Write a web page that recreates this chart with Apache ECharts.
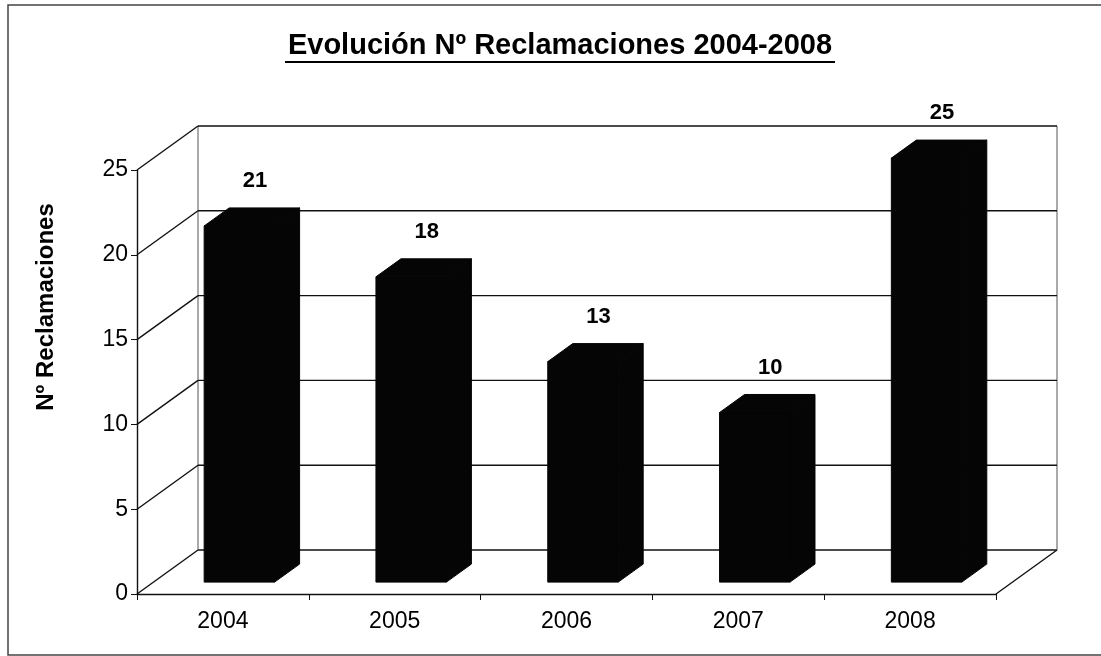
<!DOCTYPE html>
<html>
<head>
<meta charset="utf-8">
<title>Evolución Nº Reclamaciones 2004-2008</title>
<style>
    html, body { margin: 0; padding: 0; background: #fff; }
    #chart { width: 1101px; height: 656px; }
</style>
<script src="https://cdn.jsdelivr.net/npm/echarts/dist/echarts.min.js"></script>
</head>
<body>
<div id="chart"></div>
<script>
    // datos
    const years = ['2004', '2005', '2006', '2007', '2008'];
    const reclamaciones = [21, 18, 13, 10, 25];
    const yTicks = [0, 5, 10, 15, 20, 25];

    // profundidad del efecto 3D (px)
    const DX = 61, DY = -44;
    const F0 = 0.27, F1 = 0.68; // posicion de la barra dentro de la profundidad
    const FONT = '"Liberation Sans", Arial, sans-serif';

    let chart = echarts.init(document.getElementById('chart'));

    // paredes: lineas de fondo y diagonales
    function renderWall(params, api) {
        let cs = params.coordSys;
        let v = api.value(1);
        let y = api.coord([0, v])[1];
        let x0 = cs.x, W = cs.width;
        let lineStyle = { stroke: '#111', lineWidth: 1.4 };
        let children = [
            { type: 'line', shape: { x1: x0, y1: y, x2: x0 + DX, y2: y + DY }, style: lineStyle },
            { type: 'line', shape: { x1: x0 + DX, y1: y + DY, x2: x0 + DX + W, y2: y + DY }, style: lineStyle }
        ];
        if (params.dataIndex === 0) {
            let yTop = api.coord([0, yTicks[yTicks.length - 1]])[1];
            children.push(
                { type: 'line', shape: { x1: x0 + W, y1: y, x2: x0 + W + DX, y2: y + DY }, style: lineStyle },
                { type: 'line', shape: { x1: x0 + DX, y1: y + DY, x2: x0 + DX, y2: yTop + DY }, style: { stroke: '#555', lineWidth: 1 } },
                { type: 'line', shape: { x1: x0 + W + DX, y1: y + DY, x2: x0 + W + DX, y2: yTop + DY }, style: { stroke: '#555', lineWidth: 1 } }
            );
        }
        return { type: 'group', children: children };
    }

    // barras 3D
    function renderBar(params, api) {
        let i = api.value(0), v = api.value(1);
        let c0 = api.coord([i, 0]);
        let c1 = api.coord([i, v]);
        let bw = api.size([1, 0])[0] * 0.41;
        let dx0 = F0 * DX, dy0 = F0 * DY;
        let ddx = (F1 - F0) * DX, ddy = (F1 - F0) * DY;
        let left = c0[0] - bw / 2 + dx0, right = left + bw;
        let bottom = c0[1] + dy0, top = c1[1] + dy0;
        let st = { fill: '#050505', stroke: '#050505', lineWidth: 1 };
        return {
            type: 'group',
            children: [
                { type: 'rect', shape: { x: left, y: top, width: bw, height: bottom - top }, style: st },
                { type: 'polygon', shape: { points: [[left, top], [left + ddx, top + ddy], [right + ddx, top + ddy], [right, top]] }, style: st },
                { type: 'polygon', shape: { points: [[right, top], [right + ddx, top + ddy], [right + ddx, bottom + ddy], [right, bottom]] }, style: st },
                {
                    type: 'text',
                    x: c0[0] + (F0 + F1) / 2 * DX + 3,
                    y: top + ddy - 27,
                    style: {
                        text: String(v), fill: '#000', font: 'bold 22px ' + FONT,
                        align: 'center', verticalAlign: 'middle'
                    }
                }
            ]
        };
    }

    chart.setOption({
        animation: false,
        backgroundColor: '#fff',
        graphic: [
            { type: 'rect', shape: { x: 8, y: 5, width: 1110, height: 650 }, style: { fill: 'none', stroke: '#444', lineWidth: 1.5 } },
            {
                type: 'text', x: 560, y: 46,
                style: { text: 'Evolución Nº Reclamaciones 2004-2008', font: 'bold 29px ' + FONT, fill: '#000', align: 'center', verticalAlign: 'middle' }
            },
            { type: 'rect', shape: { x: 285, y: 61, width: 550, height: 2 }, style: { fill: '#000' } },
            {
                type: 'text', x: 46, y: 307, rotation: Math.PI / 2,
                style: { text: 'Nº Reclamaciones', font: 'bold 24px ' + FONT, fill: '#000', align: 'center', verticalAlign: 'middle' }
            }
        ],
        grid: {
            left: 137,
            right: 105,
            top: 170,
            bottom: 62
        },
        xAxis: {
            type: 'category',
            data: years,
            axisLine: { lineStyle: { color: '#111', width: 1.4 } },
            axisTick: { show: true, length: 6, lineStyle: { color: '#111' } },
            axisLabel: { color: '#000', fontSize: 23, fontFamily: FONT, margin: 16 }
        },
        yAxis: {
            type: 'value',
            min: 0,
            max: 25,
            interval: 5,
            axisLine: { show: true, lineStyle: { color: '#111', width: 1.4 } },
            axisTick: { show: true, length: 6, lineStyle: { color: '#111' } },
            axisLabel: { color: '#000', fontSize: 23, fontFamily: FONT, margin: 9 },
            splitLine: { show: false }
        },
        series: [
            {
                type: 'custom',
                renderItem: renderWall,
                data: yTicks.map(t => [0, t]),
                encode: { x: 0, y: 1 },
                z: 1,
                silent: true
            },
            {
                type: 'custom',
                renderItem: renderBar,
                data: reclamaciones.map((v, i) => [i, v]),
                encode: { x: 0, y: 1 },
                z: 3
            }
        ]
    });
</script>
</body>
</html>
